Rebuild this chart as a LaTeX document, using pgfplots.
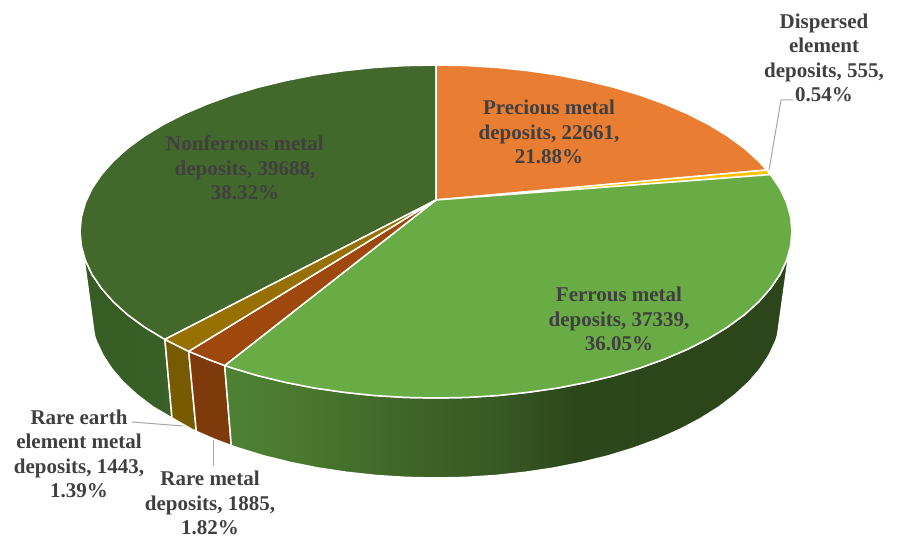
\documentclass[border=0pt]{standalone}
\usepackage{fontspec}
\setmainfont{Liberation Serif}
\usepackage{pgfplots}
\pgfplotsset{compat=1.18}

\definecolor{nonferrous}{HTML}{43682B}
\definecolor{precious}{HTML}{E97D31}
\definecolor{dispersed}{HTML}{FFC000}
\definecolor{ferrous}{HTML}{69AB45}
\definecolor{raremetal}{HTML}{9E480E}
\definecolor{rareearth}{HTML}{967000}
\definecolor{labeltext}{HTML}{404040}
\definecolor{leader}{HTML}{A6A6A6}

\definecolor{fs1}{RGB}{77,128,50}
\definecolor{fs2}{RGB}{74,122,46}
\definecolor{fs3}{RGB}{61,97,39}
\definecolor{fs4}{RGB}{55,90,36}
\definecolor{fs5}{RGB}{44,71,26}
\definecolor{fs6}{RGB}{43,67,26}
\definecolor{ns1}{RGB}{54,92,36}
\definecolor{ns2}{RGB}{57,96,38}

% side gradients, positions run 25bp..75bp across the bounding box
\pgfdeclarehorizontalshading{ferrousside}{100bp}{
  color(0bp)=(fs1); color(26bp)=(fs1); color(31bp)=(fs2); color(43bp)=(fs3);
  color(49bp)=(fs4); color(56bp)=(fs5); color(100bp)=(fs6)}
\pgfdeclarehorizontalshading{nonferrousside}{100bp}{
  color(0bp)=(ns1); color(25bp)=(ns1); color(75bp)=(ns2); color(100bp)=(ns2)}

\tikzset{
    slice/.style={draw=white, line width=1.5pt},
    lab/.style={font=\fontsize{21}{24.5}\selectfont\bfseries, text=labeltext, align=center, inner sep=0pt},
}

\begin{document}
\begin{tikzpicture}
\useasboundingbox (0,0) rectangle (898pt,537pt);
\begin{axis}[
    at={(0,0)}, anchor=south west,
    width=898pt, height=537pt, scale only axis,
    xmin=0, xmax=898, ymin=0, ymax=537,
    y dir=reverse,
    hide axis, clip=false,
    every axis plot/.append style={no markers, line join=round},
]

% side faces
\addplot[slice, shade, shading=nonferrousside] coordinates {
    (83.5,254.7) (85.4,260.4) (92.1,274.6) (101.5,288.4) (113.4,301.9) (127.7,314.8) (144.4,327) (164.9,339.4)
    (172,418) (153.4,407.2) (137.2,395) (123.3,382.2) (111.8,368.8) (102.8,355) (96.2,340.8) (94.3,335)
} --cycle;
\addplot[slice, fill=rareearth!80!black] coordinates {
    (164.9,339.4) (184.3,349.2) (188.7,351.3) (196.3,431.4) (192,429.4) (172,418)
} --cycle;
\addplot[slice, fill=raremetal!80!black] coordinates {
    (188.7,351.3) (207.2,359) (224.7,365.5) (231.3,445.6) (214.2,439.2) (196.3,431.4)
} --cycle;
\addplot[slice, shade, shading=ferrousside] coordinates {
    (224.7,365.5) (231.8,367.9) (258,375.7) (285.6,382.4) (314.2,388) (343.9,392.3) (374.2,395.5) (405,397.4)
    (436,398) (467,397.4) (497.8,395.5) (528.1,392.3) (557.8,388) (586.4,382.4) (614,375.7) (640.2,367.9)
    (664.8,359) (687.7,349.2) (708.7,338.5) (727.6,327) (744.3,314.8) (758.6,301.9) (770.5,288.4) (779.9,274.6)
    (786.6,260.4) (789,253)
    (777.6,335) (775.8,340.8) (769.2,355) (760.2,368.8) (748.7,382.2) (734.8,395) (718.6,407.2) (700.3,418.7)
    (680,429.4) (657.8,439.2) (633.9,448) (608.5,455.8) (581.8,462.4) (554,468) (525.3,472.3) (495.9,475.5)
    (466.1,477.4) (436,478) (405.9,477.4) (376.1,475.5) (346.7,472.3) (318,468) (290.2,462.4) (263.5,455.8)
    (238.1,448) (231.3,445.6)
} --cycle;

% top face
\addplot[slice, fill=nonferrous] coordinates {
    (436,200) (164.9,339.4) (144.4,327) (127.7,314.8) (113.4,301.9) (101.5,288.4) (92.1,274.6) (85.4,260.4)
    (81.4,246) (80,231.5) (81.4,217) (85.4,202.6) (92.1,188.4) (101.5,174.6) (113.4,161.1) (127.7,148.2)
    (144.4,136) (163.3,124.5) (184.3,113.8) (207.2,104) (231.8,95.1) (258,87.3) (285.6,80.6) (314.2,75)
    (343.9,70.7) (374.2,67.5) (405,65.6) (436,65)
} --cycle;
\addplot[slice, fill=precious] coordinates {
    (436,200) (436,65) (467,65.6) (497.8,67.5) (528.1,70.7) (557.8,75) (586.4,80.6) (614,87.3) (640.2,95.1)
    (664.8,104) (687.7,113.8) (708.7,124.5) (727.6,136) (744.3,148.2) (758.6,161.1) (766.8,170)
} --cycle;
\addplot[slice, fill=dispersed] coordinates {
    (436,200) (766.8,170) (770.5,174.6)
} --cycle;
\addplot[slice, fill=ferrous] coordinates {
    (436,200) (770.5,174.6) (779.9,188.4) (786.6,202.6) (790.6,217) (792,231.5) (790.6,246) (786.6,260.4)
    (779.9,274.6) (770.5,288.4) (758.6,301.9) (744.3,314.8) (727.6,327) (708.7,338.5) (687.7,349.2) (664.8,359)
    (640.2,367.9) (614,375.7) (586.4,382.4) (557.8,388) (528.1,392.3) (497.8,395.5) (467,397.4) (436,398)
    (405,397.4) (374.2,395.5) (343.9,392.3) (314.2,388) (285.6,382.4) (258,375.7) (231.8,367.9) (224.7,365.5)
} --cycle;
\addplot[slice, fill=raremetal] coordinates {
    (436,200) (224.7,365.5) (207.2,359) (188.7,351.3)
} --cycle;
\addplot[slice, fill=rareearth] coordinates {
    (436,200) (188.7,351.3) (184.3,349.2) (164.9,339.4)
} --cycle;

% leader lines
\addplot[leader, line width=1pt] coordinates {(793,100) (781,100) (769,170)};
\addplot[leader, line width=1pt] coordinates {(132,422) (183,426)};
\addplot[leader, line width=1pt] coordinates {(213,440) (213,466)};

% labels
\node[lab] at (axis cs:549,132) {Precious metal\\deposits, 22661,\\21.88\%};
\node[lab] at (axis cs:824,58) {Dispersed\\element\\deposits, 555,\\0.54\%};
\node[lab] at (axis cs:619,319) {Ferrous metal\\deposits, 37339,\\36.05\%};
\node[lab] at (axis cs:245,168) {Nonferrous metal\\deposits, 39688,\\38.32\%};
\node[lab] at (axis cs:79,454) {Rare earth\\element metal\\deposits, 1443,\\1.39\%};
\node[lab] at (axis cs:210,503) {Rare metal\\deposits, 1885,\\1.82\%};
\end{axis}
\end{tikzpicture}
\end{document}
